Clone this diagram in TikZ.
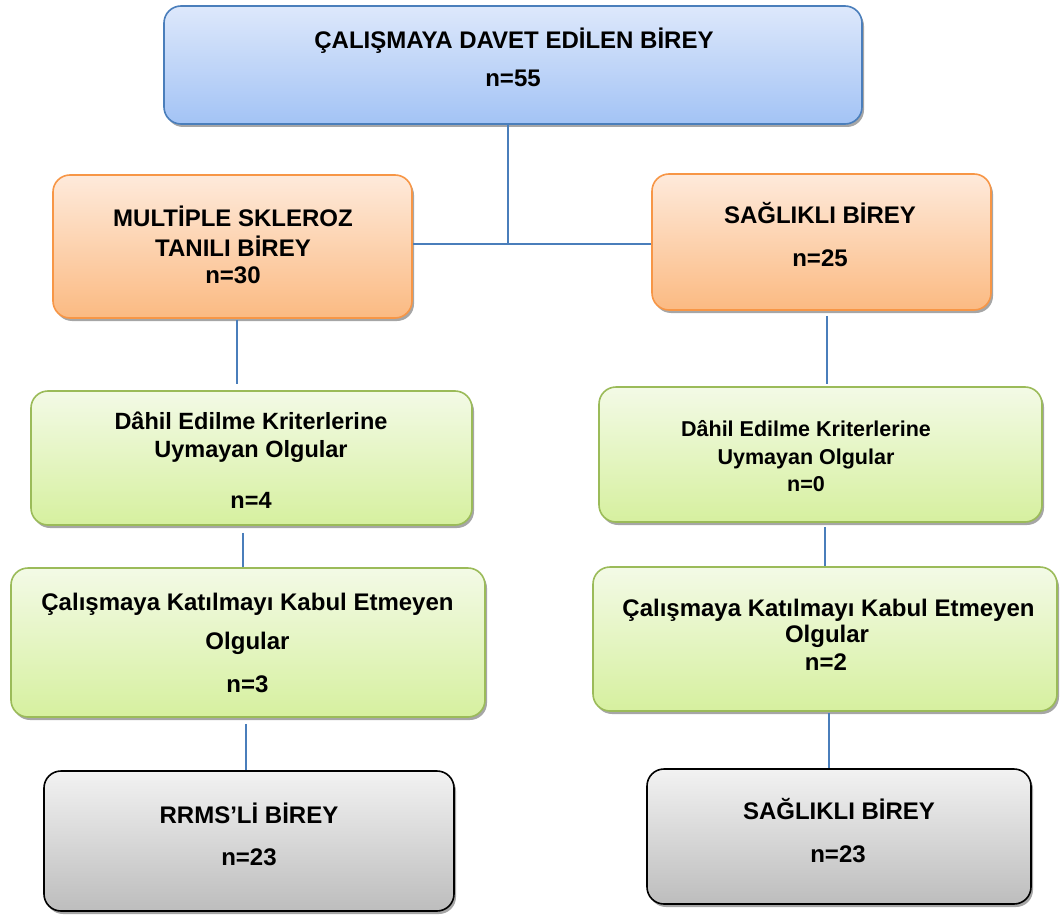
\documentclass[tikz,border=0pt]{standalone}
\usepackage{fontspec}
\setmainfont{Liberation Sans}
\usetikzlibrary{shadows}
\definecolor{bluetop}{HTML}{DDE8FB}
\definecolor{bluebot}{HTML}{A3C3F5}
\definecolor{blueline}{HTML}{4A7EBB}
\definecolor{ortop}{HTML}{FEEADB}
\definecolor{orbot}{HTML}{FBBA82}
\definecolor{orline}{HTML}{F79646}
\definecolor{grtop}{HTML}{F3FAE6}
\definecolor{grbot}{HTML}{D6F09F}
\definecolor{grline}{HTML}{9BBB59}
\definecolor{gytop}{HTML}{F2F2F2}
\definecolor{gybot}{HTML}{BDBDBD}
\tikzset{
  box/.style={rounded corners=17pt, line width=1.6pt, inner sep=0pt,
    drop shadow={shadow xshift=2pt, shadow yshift=-3pt, opacity=0.35, fill=black}},
  bluebox/.style={box, draw=blueline, top color=bluetop, bottom color=bluebot},
  orbox/.style={box, draw=orline, top color=ortop, bottom color=orbot},
  grbox/.style={box, draw=grline, top color=grtop, bottom color=grbot},
  gybox/.style={box, draw=black, top color=gytop, bottom color=gybot},
  txt/.style={anchor=base, inner sep=0pt, font=\bfseries\fontsize{24}{28}\selectfont},
  txts/.style={anchor=base, inner sep=0pt, font=\bfseries\fontsize{21.5}{26}\selectfont},
  conn/.style={draw=blueline, line width=1.3pt}
}
\begin{document}
\begin{tikzpicture}[x=1pt,y=-1pt]
\useasboundingbox (0,0) rectangle (1060,915);
% boxes
\node[bluebox, minimum width=698, minimum height=118] (top) at (513,65) {};
\node[orbox, minimum width=359, minimum height=143] (ms) at (232.5,246.5) {};
\node[orbox, minimum width=339, minimum height=136] (sh) at (821.5,242) {};
\node[grbox, minimum width=441, minimum height=134] (g1l) at (251.5,458) {};
\node[grbox, minimum width=443, minimum height=135] (g1r) at (820.5,454.5) {};
\node[grbox, minimum width=474, minimum height=149] (g2l) at (248,642.5) {};
\node[grbox, minimum width=464, minimum height=144] (g2r) at (825,639) {};
\node[gybox, minimum width=410, minimum height=140] (gyl) at (249,841) {};
\node[gybox, minimum width=384, minimum height=135] (gyr) at (839,836.5) {};
% texts
\node[txt] (t1a) at (514,48.6) {ÇALIŞMAYA DAVET EDİLEN BİREY};
\node[txt] (t1b) at (513,86.6) {n=55};
\node[txt] (t2a) at (233,226.6) {MULTİPLE SKLEROZ};
\node[txt] (t2b) at (233,256.6) {TANILI BİREY};
\node[txt] (t2c) at (233,283.6) {n=30};
\node[txt] (t3a) at (820,223.6) {SAĞLIKLI BİREY};
\node[txt] (t3b) at (820,266.6) {n=25};
\node[txt, font=\bfseries\fontsize{23.5}{28}\selectfont] (t4a) at (251,429.6) {Dâhil Edilme Kriterlerine};
\node[txt, font=\bfseries\fontsize{23.5}{28}\selectfont] (t4b) at (251,457.6) {Uymayan Olgular};
\node[txt, font=\bfseries\fontsize{23.5}{28}\selectfont] (t4c) at (251,508.6) {n=4};
\node[txts] (t5a) at (806,436.4) {Dâhil Edilme Kriterlerine};
\node[txts] (t5b) at (806,464.4) {Uymayan Olgular};
\node[txts] (t5c) at (806,491.4) {n=0};
\node[txt] (t6a) at (247.5,610.6) {Çalışmaya Katılmayı Kabul Etmeyen};
\node[txt] (t6b) at (247.5,649.6) {Olgular};
\node[txt] (t6c) at (247.5,692.6) {n=3};
\node[txt] (t7a) at (828.5,616.6) {Çalışmaya Katılmayı Kabul Etmeyen};
\node[txt] (t7b) at (827,642.6) {Olgular};
\node[txt] (t7c) at (826,670.6) {n=2};
\node[txt] (t8a) at (249,823.6) {RRMS’Lİ BİREY};
\node[txt] (t8b) at (249,865.6) {n=23};
\node[txt] (t9a) at (839,819.6) {SAĞLIKLI BİREY};
\node[txt] (t9b) at (838,862.6) {n=23};
% connectors
\coordinate (j) at (508,244);
\draw[conn] (top.south -| j) -- (j);
\draw[conn] (j) -- (j -| ms.east);
\draw[conn] (j) -- (j -| sh.west);
\draw[conn, shorten <=1pt, shorten >=6pt] ([xshift=4.5pt]ms.south) -- ([xshift=4.5pt]ms.south |- g1l.north);
\draw[conn, shorten <=5pt, shorten >=2pt] ([xshift=5.5pt]sh.south) -- ([xshift=5.5pt]sh.south |- g1r.north);
\draw[conn, shorten <=7pt] ([xshift=-8.5pt]g1l.south) -- ([xshift=-8.5pt]g1l.south |- g2l.north);
\draw[conn, shorten <=4pt] ([xshift=4.5pt]g1r.south) -- ([xshift=4.5pt]g1r.south |- g2r.north);
\draw[conn, shorten <=6pt] ([xshift=-2pt]g2l.south) -- ([xshift=-2pt]g2l.south |- gyl.north);
\draw[conn, shorten <=1pt] ([xshift=4pt]g2r.south) -- ([xshift=4pt]g2r.south |- gyr.north);
\end{tikzpicture}
\end{document}
